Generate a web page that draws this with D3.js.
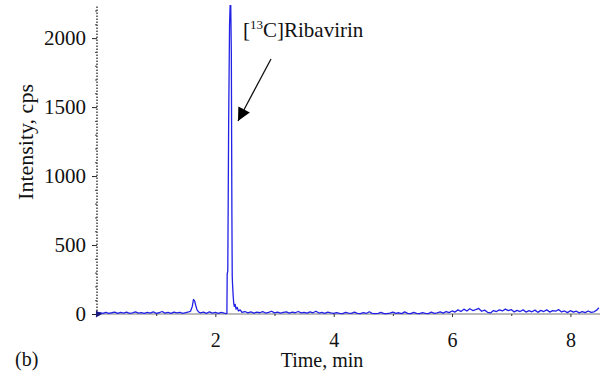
<!DOCTYPE html>
<html>
<head>
<meta charset="utf-8">
<script src="https://cdn.jsdelivr.net/npm/d3@7"></script>
<style>
  body { margin: 0; background: #fff; }
  svg { display: block; }
</style>
</head>
<body>
<div id="chart"></div>
<script>
// chromatogram trace (time in min, intensity in cps)
var traceTime = [
  0.00, 0.05, 0.10, 0.15, 0.20, 0.25, 0.30, 0.35, 0.40, 0.45, 0.50, 0.55, 0.60, 0.65, 0.70, 0.75,
  0.80, 0.85, 0.90, 0.95, 1.00, 1.05, 1.10, 1.15, 1.20, 1.25, 1.30, 1.35, 1.40, 1.45, 1.50, 1.55,
  1.58, 1.61, 1.63, 1.65, 1.67, 1.69, 1.72,
  1.75, 1.80, 1.85, 1.90, 1.95, 2.00, 2.05, 2.10, 2.15, 2.18, 2.195,
  2.20, 2.21, 2.225, 2.24, 2.25, 2.26, 2.27, 2.28, 2.285, 2.29, 2.30, 2.31, 2.32, 2.335, 2.35, 2.37, 2.39, 2.42, 2.45,
  2.50, 2.55, 2.60, 2.65, 2.70, 2.75, 2.80, 2.85, 2.90, 2.95, 3.00, 3.05, 3.10, 3.15, 3.20, 3.25,
  3.30, 3.35, 3.40, 3.45, 3.50, 3.55, 3.60, 3.65, 3.70, 3.75, 3.80, 3.85, 3.90, 3.95, 4.00, 4.05,
  4.10, 4.15, 4.20, 4.25, 4.30, 4.35, 4.40, 4.45, 4.50, 4.55, 4.60, 4.65, 4.70, 4.75, 4.80, 4.85,
  4.90, 4.95, 5.00, 5.05, 5.10, 5.15, 5.20, 5.25, 5.30, 5.35, 5.40, 5.45, 5.50, 5.55, 5.60, 5.65,
  5.70, 5.75, 5.80, 5.85, 5.90, 5.95, 6.00, 6.05, 6.10, 6.15, 6.20, 6.25, 6.30, 6.35, 6.40, 6.45,
  6.50, 6.55, 6.60, 6.65, 6.70, 6.75, 6.80, 6.85, 6.90, 6.95, 7.00, 7.05, 7.10, 7.15, 7.20, 7.25,
  7.30, 7.35, 7.40, 7.45, 7.50, 7.55, 7.60, 7.65, 7.70, 7.75, 7.80, 7.85, 7.90, 7.95, 8.00, 8.05,
  8.10, 8.15, 8.20, 8.25, 8.30, 8.35, 8.40, 8.45, 8.48
];
var traceCps = [
  6, 10, 4, 12, 5, 9, 14, 4, 11, 6, 13, 5, 8, 15, 6, 10,
  4, 12, 7, 16, 5, 9, 18, 6, 11, 4, 14, 8, 12, 5, 10, 15,
  20, 55, 105, 95, 60, 30, 14,
  8, 13, 5, 16, 7, 11, 4, 12, 6, 3, 4,
  290, 310, 1400, 2100, 2240, 2240, 1900, 700, 280, 220, 140, 80, 55, 70, 35, 48, 22, 30, 12,
  18, 8, 15, 6, 13, 9, 17, 7, 12, 20, 8, 14, 6, 11, 16, 7,
  13, 9, 18, 8, 12, 6, 15, 9, 20, 7, 11, 5, 14, 8, 4, 10,
  5, 3, 12, 6, 4, 14, 5, 3, 10, 4, 16, 5, 3, 4, 11, 3,
  2, 6, 14, 4, 9, 3, 15, 5, 3, 12, 4, 3, 10, 4, 3, 13,
  4, 8, 15, 6, 18, 10, 22, 14, 30, 18, 35, 22, 38, 25, 32, 40,
  20, 28, 12, 8, 25, 18, 30, 22, 35, 24, 32, 15, 26, 18, 30, 14,
  24, 16, 28, 12, 26, 18, 30, 14, 25, 20, 32, 15, 22, 10, 24, 14,
  20, 8, 18, 10, 22, 12, 16, 30, 45
];

var yTicks = [0, 500, 1000, 1500, 2000];
var xTicks = [2, 4, 6, 8];
var xMinorTicks = [1, 3, 5, 7];

var width = 609, height = 374;
var serif = '"Liberation Serif", "Times New Roman", Times, "DejaVu Serif", serif';

var svg = d3.select('#chart').append('svg')
    .attr('width', width)
    .attr('height', height)
    .style('font-family', serif);

var x = d3.scaleLinear()
    .domain([0, 8.5])
    .range([97, 600]);

var y = d3.scaleLinear()
    .domain([0, 2240])
    .range([314, 5]);

var data = traceTime.map(function(t, i) { return {t: t, v: traceCps[i]}; });

// x axis baseline + ticks
svg.append('line')
    .attr('x1', x(0)).attr('x2', x(8.5))
    .attr('y1', y(0)).attr('y2', y(0))
    .attr('stroke', '#777')
    .attr('stroke-width', 1.2);

var xAxis = d3.axisBottom(x)
    .tickValues(xTicks)
    .tickSize(3)
    .tickPadding(16)
    .tickFormat(d3.format('d'));

var gx = svg.append('g')
    .attr('class', 'x-axis')
    .attr('transform', 'translate(0,' + y(0) + ')')
    .call(xAxis);
gx.select('.domain').remove();
gx.selectAll('line').attr('stroke', '#333');
gx.selectAll('text')
    .style('font-family', serif)
    .style('font-size', '20px')
    .attr('fill', '#111');

svg.append('g')
    .attr('transform', 'translate(0,' + y(0) + ')')
    .call(d3.axisBottom(x).tickValues(xMinorTicks).tickSize(2).tickFormat(''))
    .call(function(g) { g.select('.domain').remove(); g.selectAll('line').attr('stroke', '#333'); });

// y axis: dotted spine with minor ticks
var yAxis = d3.axisLeft(y)
    .tickValues(yTicks)
    .tickSize(5)
    .tickPadding(6)
    .tickFormat(d3.format('d'));

var gy = svg.append('g')
    .attr('class', 'y-axis')
    .attr('transform', 'translate(' + x(0) + ',0)')
    .call(yAxis);
gy.select('.domain')
    .attr('d', 'M0,' + y(0) + 'V' + y.range()[1])
    .attr('stroke', '#222')
    .attr('stroke-dasharray', '1.5,1.5')
    .attr('stroke-width', 1.3);
gy.selectAll('.tick line').attr('stroke', '#222');
gy.selectAll('text')
    .style('font-family', serif)
    .style('font-size', '21px')
    .attr('fill', '#111');

svg.append('g')
    .attr('transform', 'translate(' + x(0) + ',0)')
    .call(d3.axisLeft(y).tickValues(d3.range(100, 2240, 100)).tickSize(2).tickFormat(''))
    .call(function(g) { g.select('.domain').remove(); g.selectAll('line').attr('stroke', '#444'); });

// trace
svg.append('clipPath')
    .attr('id', 'plot-clip')
  .append('rect')
    .attr('x', x(0)).attr('y', y.range()[1])
    .attr('width', x(8.5) - x(0)).attr('height', y(0) - y.range()[1] + 1);

var line = d3.line()
    .x(function(d) { return x(d.t); })
    .y(function(d) { return y(d.v); });

svg.append('path')
    .datum(data)
    .attr('clip-path', 'url(#plot-clip)')
    .attr('fill', 'none')
    .attr('stroke', '#2222e6')
    .attr('stroke-width', 1.3)
    .attr('stroke-linejoin', 'round')
    .attr('d', line);

// little marker at the origin
svg.append('path')
    .attr('d', d3.symbol().type(d3.symbolTriangle).size(22)())
    .attr('transform', 'translate(' + (x(0) + 1) + ',' + y(0) + ') rotate(90)')
    .attr('fill', '#1a1a80');

// axis titles
function addText(sel) {
  return sel.append('text')
      .style('font-family', serif)
      .style('font-size', '20px')
      .attr('fill', '#111');
}

addText(svg)
    .attr('x', 322)
    .attr('y', 367)
    .attr('text-anchor', 'middle')
    .text('Time, min');

addText(svg)
    .attr('transform', 'translate(33,142) rotate(-90)')
    .attr('text-anchor', 'middle')
    .style('font-size', '22px')
    .text('Intensity, cps');

addText(svg)
    .attr('x', 15)
    .attr('y', 366)
    .text('(b)');

// annotation
var label = addText(svg)
    .attr('x', 243)
    .attr('y', 37)
    .style('font-size', '21px');
label.append('tspan').text('[');
label.append('tspan').attr('dy', -8).style('font-size', '13px').text('13');
label.append('tspan').attr('dy', 8).text('C]Ribavirin');

svg.append('defs').append('marker')
    .attr('id', 'arrow')
    .attr('viewBox', '0 0 10 10')
    .attr('refX', 10).attr('refY', 5)
    .attr('markerWidth', 16).attr('markerHeight', 13)
    .attr('markerUnits', 'userSpaceOnUse')
    .attr('orient', 'auto')
  .append('path')
    .attr('d', 'M0,0L10,5L0,10Z')
    .attr('fill', '#000');

svg.append('line')
    .attr('x1', 271).attr('y1', 59)
    .attr('x2', 238).attr('y2', 121)
    .attr('stroke', '#111')
    .attr('stroke-width', 1.3)
    .attr('marker-end', 'url(#arrow)');
</script>
</body>
</html>
